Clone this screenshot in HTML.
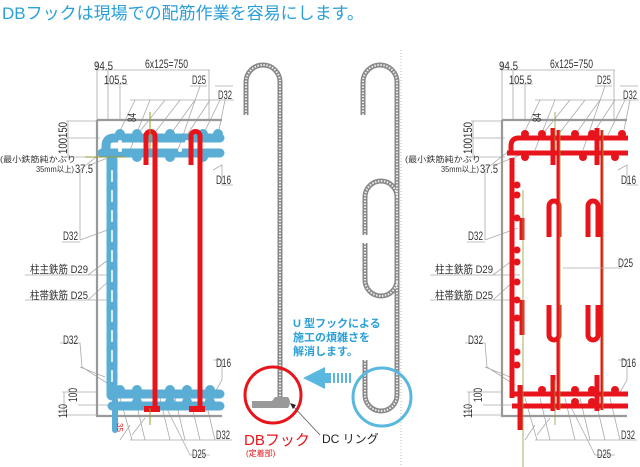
<!DOCTYPE html>
<html><head><meta charset="utf-8"><style>
html,body{margin:0;padding:0;background:#fff}
svg{display:block}
.t{font-family:"Liberation Sans Narrow","Liberation Sans","Noto Sans CJK JP",sans-serif;fill:#333}
</style></head><body>
<svg width="640" height="467" viewBox="0 0 640 467" xmlns="http://www.w3.org/2000/svg">
<text x="2" y="19" font-family="Liberation Sans,'Noto Sans CJK JP',sans-serif" font-size="17" fill="#2a9fd8">DBフックは現場での配筋作業を容易にします。</text>
<line x1="401" y1="50" x2="401" y2="467" stroke="#bbb" stroke-width="1" stroke-dasharray="1,2"/>

<defs>
<g id="frame">
  <g stroke="#aaa" stroke-width="0.8" fill="none">
    <path d="M96,70H210M97,62V121M108,70V121M120,84V121M209,70V121M104,84H128"/>
    <path d="M66,121H97M66,138H100M66,157H100M68,121V157"/>
    <path d="M130,100H234M135,100L118,135M150,100L130,150M165,100L137,135M180,100L153,135M195,100L170,135M210,100L187,135M220,100L203,135M225,100L218,135M200,86L178,150"/>
    <path d="M215,86H233M190,86H207"/>
    <path d="M213,170L222,165V185H233"/>
    <path d="M90,165L115,155M80,240L113,228M80,240V170L105,150M62,242H80"/>
    <path d="M25,275H115M25,300H115M88,275L108,260M88,300L110,280"/>
    <path d="M60,343H80L82,367L110,385M80,367L105,377"/>
    <path d="M213,360H222V380L215,392"/>
    <path d="M62,392H97M62,415H97M64,392V415M78,405H120"/>
    <path d="M130,440H232M120,398L132,440M135,398L145,440M160,398L170,440M175,398L185,440M190,398L200,440M205,398L215,440M165,405L190,455H210"/>
    <path d="M130,425L120,440M145,418L132,435"/>
  </g>
  <path d="M97,120H222M97,120V416H222" stroke="#999" stroke-width="2.2" fill="none"/>
  <text class="t" x="94" y="70" font-size="12" textLength="19" lengthAdjust="spacingAndGlyphs">94.5</text>
  <text class="t" x="145" y="68" font-size="12" textLength="43" lengthAdjust="spacingAndGlyphs">6x125=750</text>
  <text class="t" x="104" y="84" font-size="12" textLength="23" lengthAdjust="spacingAndGlyphs">105.5</text>
  <text class="t" x="192" y="84" font-size="12" textLength="14" lengthAdjust="spacingAndGlyphs">D25</text>
  <text class="t" x="218" y="99" font-size="12" textLength="14" lengthAdjust="spacingAndGlyphs">D32</text>
  <text class="t" x="216" y="184" font-size="12" textLength="15" lengthAdjust="spacingAndGlyphs">D16</text>
  <text class="t" x="63" y="240" font-size="12" textLength="15" lengthAdjust="spacingAndGlyphs">D32</text>
  <text class="t" x="30" y="273" font-size="11" textLength="58" lengthAdjust="spacingAndGlyphs">柱主鉄筋 D29</text>
  <text class="t" x="30" y="299" font-size="11" textLength="58" lengthAdjust="spacingAndGlyphs">柱帯鉄筋 D25</text>
  <text class="t" x="63" y="344" font-size="12" textLength="15" lengthAdjust="spacingAndGlyphs">D32</text>
  <text class="t" x="216" y="367" font-size="12" textLength="15" lengthAdjust="spacingAndGlyphs">D16</text>
  <text class="t" x="216" y="439" font-size="12" textLength="14" lengthAdjust="spacingAndGlyphs">D32</text>
  <text class="t" x="192" y="458" font-size="12" textLength="14" lengthAdjust="spacingAndGlyphs">D25</text>
  <text class="t" x="0" y="162" font-size="8" textLength="76" lengthAdjust="spacingAndGlyphs">(最小鉄筋純かぶり</text>
  <text class="t" x="36" y="172" font-size="8" textLength="38" lengthAdjust="spacingAndGlyphs">35mm以上)</text>
  <text class="t" x="75" y="173" font-size="12" textLength="18" lengthAdjust="spacingAndGlyphs">37.5</text>
  <text class="t" font-size="12" transform="translate(67,154) rotate(-90)" textLength="32" lengthAdjust="spacingAndGlyphs">100150</text>
  <text class="t" font-size="12" transform="translate(136,122) rotate(-90)" textLength="9" lengthAdjust="spacingAndGlyphs">84</text>
  <text class="t" font-size="12" transform="translate(77,402) rotate(-90)" textLength="14" lengthAdjust="spacingAndGlyphs">100</text>
  <text class="t" font-size="12" transform="translate(67,418) rotate(-90)" textLength="14" lengthAdjust="spacingAndGlyphs">110</text>
</g>
</defs>

<use href="#frame"/>
<use href="#frame" transform="translate(405,0)"/>

<!-- LEFT blue rebar -->
<g stroke="#5aaed6" fill="none" stroke-linecap="round">
  <path d="M106,152V146Q106,138 114,138H220" stroke-width="9"/>
  <path d="M102,153H220" stroke-width="9"/>
  <path d="M112,160V395" stroke-width="11"/>
  <path d="M112,394H220M112,406H220" stroke-width="9"/>
  <path d="M115,400V430" stroke-width="6"/>
</g>
<path d="M112,170V390" stroke="#fff" stroke-width="1.5" stroke-dasharray="12,8"/>
<g fill="#5aaed6">
  <circle cx="120" cy="134" r="5"/><circle cx="137" cy="134" r="5"/><circle cx="170" cy="134" r="5"/><circle cx="203" cy="134" r="5"/><circle cx="218" cy="134" r="5"/>
  <circle cx="137" cy="157" r="5"/><circle cx="170" cy="157" r="5"/><circle cx="203" cy="157" r="5"/>
  <circle cx="120" cy="390" r="5"/><circle cx="137" cy="390" r="5"/><circle cx="170" cy="390" r="5"/><circle cx="187" cy="390" r="5"/><circle cx="210" cy="390" r="5"/>
  <circle cx="137" cy="402" r="5"/><circle cx="170" cy="402" r="5"/><circle cx="187" cy="402" r="5"/><circle cx="210" cy="402" r="5"/>
</g>
<g fill="#fff"><circle cx="120" cy="142" r="2"/><circle cx="187" cy="142" r="2"/><circle cx="120" cy="150" r="2"/><circle cx="180" cy="150" r="2"/></g>
<g stroke="#e8141b" stroke-width="5" fill="none">
  <path d="M146,165V136A4.5,4.5 0 0 1 155,136V408"/>
  <path d="M191,165V136A4.5,4.5 0 0 1 200,136V408"/>
</g>
<rect x="144" y="406" width="16" height="6" fill="#e8141b"/>
<rect x="189" y="406" width="16" height="6" fill="#e8141b"/>
<path d="M150,112V150M85,157H125M150,408V425" stroke="#9a9a30" stroke-width="1"/>
<text x="118" y="428" font-size="8" fill="#e8141b" font-family="Liberation Sans Narrow,Liberation Sans,sans-serif" transform="rotate(90 120 425)">35</text>

<!-- MIDDLE hooks -->
<g fill="none" stroke-linecap="butt">
  <g stroke="#888" stroke-width="5">
    <path d="M246,115V82A17,17 0 0 1 280,82V398"/>
    <path d="M363,115V82A17,17 0 0 1 397,82V395A16,16 0 0 1 365,395V360"/>
    <path d="M365,235V197A16,16 0 0 1 397,197"/>
    <path d="M365,243V280A16,16 0 0 0 397,280"/>
  </g>
  <g stroke="#eee" stroke-width="2" stroke-dasharray="1.5,1.5">
    <path d="M246,115V82A17,17 0 0 1 280,82V398"/>
    <path d="M363,115V82A17,17 0 0 1 397,82V395A16,16 0 0 1 365,395V360"/>
    <path d="M365,235V197A16,16 0 0 1 397,197"/>
    <path d="M365,243V280A16,16 0 0 0 397,280"/>
  </g>
</g>
<path d="M252,401H272L275,397H288Q292,402 288,408H252Z" fill="#999"/>
<circle cx="273" cy="395" r="28" fill="none" stroke="#e8141b" stroke-width="3"/>
<circle cx="382" cy="397" r="29" fill="none" stroke="#5ab8e0" stroke-width="3"/>
<path d="M303,378L325,367V389Z" fill="#5ab8e0"/>
<rect x="325" y="373" width="6" height="10" fill="#5ab8e0"/>
<path d="M334,373V383M338,373V383M342,373V383M346,373V383M350,373V383" stroke="#5ab8e0" stroke-width="2"/>
<g font-family="Liberation Sans,'Noto Sans CJK JP',sans-serif" font-size="11" fill="#2a9fd8" font-weight="bold">
<text x="293" y="327">U 型フックによる</text><text x="293" y="341">施工の煩雑さを</text><text x="293" y="355">解消します。</text></g>
<path d="M320,435L292,405" stroke="#555" stroke-width="0.8"/>
<path d="M290,403L296,405L293,409Z" fill="#222"/>
<text x="244" y="445" font-family="Liberation Sans,'Noto Sans CJK JP',sans-serif" font-size="15" fill="#e8141b">DBフック</text>
<text x="246" y="456" font-family="Liberation Sans,'Noto Sans CJK JP',sans-serif" font-size="8" fill="#e8141b">(定着部)</text>
<text x="322" y="443" font-family="Liberation Sans,'Noto Sans CJK JP',sans-serif" font-size="12" fill="#222">DC リング</text>

<!-- RIGHT red rebar -->
<g stroke="#e8141b" fill="none" stroke-width="5">
  <path d="M511,152V146Q511,138 519,138H628"/>
  <path d="M507,153H628"/>
  <path d="M512,158V398"/>
  <path d="M512,394H628M512,406H628"/>
  <path d="M520,385V430"/>
  <path d="M553,128V165M553,375V411M597,128V165M597,375V411"/>
  <path d="M549,237V206A5,5 0 0 1 559,206V237M588,237V206A5,5 0 0 1 598,206V237"/>
  <path d="M549,305V335A5,5 0 0 0 559,335V305M588,305V335A5,5 0 0 0 598,335V305"/>
  <path d="M522,218V240M522,300V335"/>
</g>
<g stroke="#e8141b" fill="none" stroke-width="3">
  <path d="M558,130V410M602,130V410"/>
</g>
<path d="M560,130V410M603,130V410M555,112V150M523,190V467M555,380V425" stroke="#9a9a30" stroke-width="0.8"/>
<g fill="#e8141b">
  <circle cx="525" cy="134" r="4"/><circle cx="542" cy="134" r="4"/><circle cx="575" cy="134" r="4"/><circle cx="592" cy="134" r="4"/><circle cx="622" cy="134" r="4"/>
  <circle cx="525" cy="157" r="4"/><circle cx="583" cy="157" r="4"/><circle cx="615" cy="157" r="4"/>
  <circle cx="517" cy="185" r="3.5"/><circle cx="517" cy="195" r="3.5"/><circle cx="517" cy="218" r="3.5"/><circle cx="517" cy="250" r="3.5"/><circle cx="517" cy="262" r="3.5"/><circle cx="517" cy="282" r="3.5"/><circle cx="517" cy="300" r="3.5"/><circle cx="517" cy="318" r="3.5"/><circle cx="517" cy="352" r="3.5"/><circle cx="517" cy="365" r="3.5"/>
  <circle cx="542" cy="390" r="4"/><circle cx="575" cy="390" r="4"/><circle cx="592" cy="390" r="4"/><circle cx="615" cy="390" r="4"/>
  <circle cx="575" cy="402" r="4"/><circle cx="592" cy="402" r="4"/>
</g>
<path d="M563,268H622" stroke="#aaa" stroke-width="0.8"/>
<text class="t" x="618" y="267" font-size="12" textLength="15" lengthAdjust="spacingAndGlyphs">D25</text>
</svg>
</body></html>
